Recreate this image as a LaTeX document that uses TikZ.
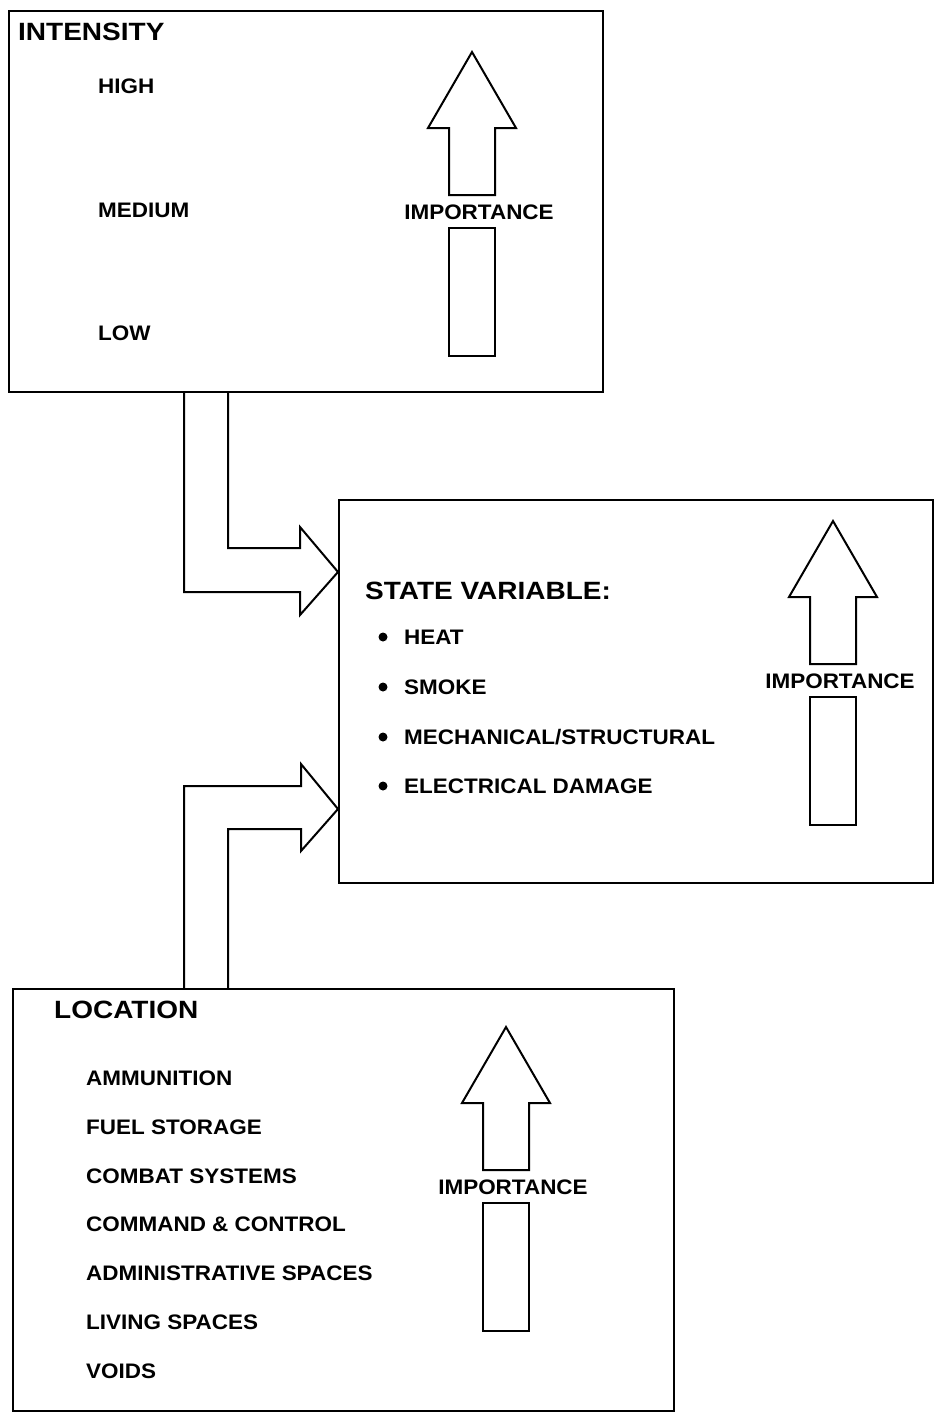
\documentclass[tikz,border=0pt]{standalone}
\usepackage{fontspec}
\setmainfont{Liberation Sans}[FakeStretch=1.07]
\newfontfamily\headfont{Liberation Sans}[FakeStretch=1.12]
\usetikzlibrary{calc}
\tikzset{
  outline/.style={line width=2pt, line join=miter},
  boxstyle/.style={draw, line width=2pt, anchor=north west, inner sep=0pt},
  heading/.style={anchor=west, inner sep=0pt, font=\headfont\bfseries\fontsize{25}{28}\selectfont},
  item/.style={anchor=west, inner sep=0pt, font=\bfseries\fontsize{21}{24}\selectfont},
  implabel/.style={inner sep=0pt, font=\bfseries\fontsize{21}{24}\selectfont},
  bulletdot/.style={fill=black, circle, inner sep=0pt, minimum size=9pt}
}
\newcommand\imparrow[2]{%
  \begin{scope}[shift={(#2)}]
    \draw[outline] (0,0) -- (44,76) -- (23,76) -- (23,143) -- (-23,143) -- (-23,76) -- (-44,76) -- cycle;
    \node[implabel] (#1-label) at (7,160) {IMPORTANCE};
    \draw[outline] (-23,176) rectangle (23,304);
  \end{scope}}
\begin{document}
\begin{tikzpicture}[x=1pt,y=-1pt]
\useasboundingbox[fill=white] (0,0) rectangle (935,1414);

% boxes
\node[boxstyle, minimum width=594pt, minimum height=381pt] (intensity) at (8,10) {};
\node[boxstyle, minimum width=594pt, minimum height=383pt] (state) at (338,499) {};
\node[boxstyle, minimum width=661pt, minimum height=422pt] (location) at (12,988) {};

% intensity texts
\node[heading] (inth) at (18,32) {INTENSITY};
\node[item] (high) at (98,86) {HIGH};
\node[item] (medium) at (98,210) {MEDIUM};
\node[item] (low) at (98,333) {LOW};
\imparrow{impA}{472,52}

% state texts
\node[heading] (stateh) at (365,591) {STATE VARIABLE:};
\foreach \t/\yy/\n in {HEAT/637/heat, SMOKE/687/smoke, {MECHANICAL/STRUCTURAL}/737/mech, ELECTRICAL DAMAGE/786/elec}{
  \node[bulletdot] (\n-dot) at (383,\yy) {};
  \node[item] (\n) at (404,\yy) {\t};
}
\imparrow{impB}{833,521}

% location texts
\node[heading] (loch) at (54,1010) {LOCATION};
\node[item] (l1) at (86,1078) {AMMUNITION};
\node[item] (l2) at (86,1127) {FUEL STORAGE};
\node[item] (l3) at (86,1176) {COMBAT SYSTEMS};
\node[item] (l4) at (86,1224) {COMMAND \& CONTROL};
\node[item] (l5) at (86,1273) {ADMINISTRATIVE SPACES};
\node[item] (l6) at (86,1322) {LIVING SPACES};
\node[item] (l7) at (86,1371) {VOIDS};
\imparrow{impC}{506,1027}

% connectors (block arrows)
\coordinate (tipA) at (state.west |- 0,572);
\coordinate (tipB) at (state.west |- 0,809);
\draw[outline] (184,0 |- intensity.south) -- (184,592) -- (300,592) -- (300,615) -- (tipA)
  -- (300,527) -- (300,548) -- (228,548) -- (228,0 |- intensity.south);
\draw[outline] (184,0 |- location.north) -- (184,786) -- (301,786) -- (301,764) -- (tipB)
  -- (301,851) -- (301,829) -- (228,829) -- (228,0 |- location.north);
\end{tikzpicture}
\end{document}
